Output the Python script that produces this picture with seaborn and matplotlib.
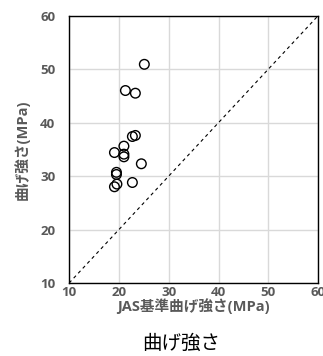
import numpy as np
import pandas as pd
import matplotlib
matplotlib.use('Agg')
import matplotlib.pyplot as plt
import seaborn as sns

sns.set_theme(style='whitegrid')
plt.rcParams['font.family'] = ['Open Sans', 'Noto Sans CJK JP', 'DejaVu Sans']

# JAS基準曲げ強さ vs 実測曲げ強さ (MPa)
jas_strength = [25.1, 21.3, 23.3, 22.7, 23.3, 21.0, 19.1, 21.0, 21.0, 24.5,
                19.5, 19.5, 22.7, 19.6, 19.1]
bend_strength = [50.9, 46.0, 45.5, 37.4, 37.6, 35.6, 34.4, 34.1, 33.6, 32.3,
                 30.7, 30.3, 28.8, 28.5, 28.0]
ticks = [10, 20, 30, 40, 50, 60]

df = pd.DataFrame({'jas': jas_strength, 'bend': bend_strength})

grey = '#595959'
fig = plt.figure(figsize=(3.23, 3.56), dpi=100)
ax = fig.add_axes([0.214, 0.205, 0.771, 0.751])

ax.plot([10, 60], [10, 60], ls=(0, (3, 3)), color='black', lw=0.8, zorder=1)
sns.scatterplot(data=df, x='jas', y='bend', ax=ax, marker='o', s=48,
                facecolor='none', edgecolor='black', linewidth=1.0, zorder=3)

ax.set_xlim(10, 60)
ax.set_ylim(10, 60)
ax.set_xticks(ticks)
ax.set_yticks(ticks)
ax.grid(True, color='#d9d9d9', lw=1)
for s in ax.spines.values():
    s.set_color('black')
    s.set_linewidth(1.0)
ax.tick_params(labelsize=9.5, colors=grey, length=3, direction='in')
ax.tick_params(axis='y', pad=10)
ax.tick_params(axis='x', pad=2.5)
for lab in ax.get_xticklabels() + ax.get_yticklabels():
    lab.set_fontweight('bold')

ax.set_xlabel('JAS基準曲げ強さ(MPa)', fontsize=10.5, fontweight='bold', color=grey)
ax.set_ylabel('曲げ強さ(MPa)', fontsize=10.5, fontweight='bold', color=grey)
ax.xaxis.set_label_coords(0.5, -0.058)
ax.yaxis.set_label_coords(-0.16, 0.5)
fig.text(0.562, 0.037, '曲げ強さ', ha='center', va='center', fontsize=14,
         color='black', family=['Noto Sans CJK JP'])

fig.savefig('out.png', dpi=100)
